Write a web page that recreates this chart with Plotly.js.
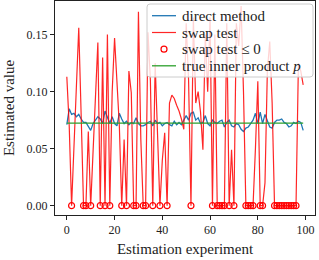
<!DOCTYPE html>
<html>
<head>
<meta charset="utf-8">
<script src="https://cdn.plot.ly/plotly-3.0.1.min.js"></script>
<style>html,body{margin:0;padding:0;background:#fff;}#chart{width:319px;height:260px;}</style>
</head>
<body>
<div id="chart"></div>
<script>
const experiments = Array.from({length: 100}, (_, i) => i);

const directMethod = [
  0.071, 0.085, 0.080, 0.081, 0.078, 0.080, 0.076, 0.073, 0.073, 0.069,
  0.066, 0.072, 0.075, 0.078, 0.076, 0.072, 0.083, 0.078, 0.072, 0.078,
  0.072, 0.070, 0.081, 0.076, 0.072, 0.074, 0.071, 0.073, 0.072, 0.077,
  0.072, 0.070, 0.070, 0.071, 0.073, 0.074, 0.070, 0.075, 0.072, 0.073,
  0.070, 0.072, 0.073, 0.071, 0.070, 0.074, 0.071, 0.073, 0.071, 0.075,
  0.079, 0.075, 0.081, 0.082, 0.075, 0.077, 0.072, 0.073, 0.079, 0.072,
  0.070, 0.075, 0.073, 0.072, 0.074, 0.075, 0.069, 0.073, 0.075, 0.070,
  0.069, 0.072, 0.071, 0.067, 0.065, 0.068, 0.069, 0.072, 0.075, 0.081,
  0.072, 0.082, 0.072, 0.080, 0.075, 0.069, 0.068, 0.073, 0.075, 0.075,
  0.076, 0.073, 0.072, 0.069, 0.070, 0.073, 0.072, 0.074, 0.073, 0.066
];

const swapTest = [
  0.113, 0.070, 0.000, 0.050, 0.100, 0.156, 0.080, 0.000, 0.000, 0.065,
  0.000, 0.050, 0.100, 0.143, 0.000, 0.130, 0.000, 0.150, 0.000, 0.100,
  0.147, 0.110, 0.070, 0.000, 0.058, 0.000, 0.118, 0.099, 0.000, 0.000,
  0.170, 0.058, 0.000, 0.000, 0.152, 0.110, 0.000, 0.125, 0.065, 0.000,
  0.040, 0.064, 0.000, 0.090, 0.097, 0.094, 0.088, 0.083, 0.076, 0.067,
  0.160, 0.110, 0.000, 0.165, 0.090, 0.100, 0.082, 0.049, 0.150, 0.100,
  0.165, 0.000, 0.150, 0.000, 0.000, 0.000, 0.000, 0.160, 0.000, 0.049,
  0.000, 0.160, 0.140, 0.175, 0.100, 0.000, 0.000, 0.000, 0.000, 0.050,
  0.109, 0.000, 0.000, 0.020, 0.119, 0.144, 0.090, 0.000, 0.000, 0.000,
  0.000, 0.000, 0.000, 0.000, 0.000, 0.000, 0.000, 0.125, 0.118, 0.106
];

const trueInnerProduct = 0.0724;

const seriesNames = ['direct method', 'swap test', 'swap test ≤ 0', 'true inner product <i>p</i>'];

const zeroX = experiments.filter(i => swapTest[i] <= 0);
const zeroY = zeroX.map(i => swapTest[i]);
const trueY = experiments.map(() => trueInnerProduct);

const FONT = "Liberation Serif, Times New Roman, serif";
const BLUE = '#1f77b4', RED = 'rgba(255,0,0,0.85)', GREEN = '#2ca02c';

const traces = [
  {x: experiments, y: directMethod, type: 'scatter', mode: 'lines', name: seriesNames[0],
   line: {color: BLUE, width: 1.3}},
  {x: experiments, y: swapTest, type: 'scatter', mode: 'lines', name: seriesNames[1],
   line: {color: RED, width: 1.2}},
  {x: zeroX, y: zeroY, type: 'scatter', mode: 'markers', name: seriesNames[2],
   marker: {symbol: 'circle-open', size: 6, color: 'red', line: {width: 1.2, color: 'red'}}},
  {x: experiments, y: trueY, type: 'scatter', mode: 'lines', name: seriesNames[3],
   line: {color: GREEN, width: 1.3}}
];

// plot-area geometry (pixels) for a matplotlib-style legend box
const M = {l: 55, r: 4, t: 1, b: 45};
const PW = 319 - M.l - M.r, PH = 260 - M.t - M.b;
const px = x => (x - M.l) / PW;
const py = y => (M.t + PH - y) / PH;

const box = {x0: 147, x1: 313, y0: 4, y1: 77, r: 3};
const rowY = [15.7, 32.5, 49.2, 65.8];
const handle = {x0: 152, x1: 176, text: 180};

function roundedRectPath(b) {
  const rx = b.r / PW, ry = b.r / PH;
  const L = px(b.x0), R = px(b.x1), T = py(b.y0), B = py(b.y1);
  return `M ${L + rx},${T} L ${R - rx},${T} Q ${R},${T} ${R},${T - ry} L ${R},${B + ry} Q ${R},${B} ${R - rx},${B} ` +
         `L ${L + rx},${B} Q ${L},${B} ${L},${B + ry} L ${L},${T - ry} Q ${L},${T} ${L + rx},${T} Z`;
}

const shapes = [
  {type: 'path', xref: 'paper', yref: 'paper', path: roundedRectPath(box), layer: 'above',
   fillcolor: 'rgba(255,255,255,0.8)', line: {color: '#cccccc', width: 1}},
  {type: 'line', xref: 'paper', yref: 'paper', layer: 'above', x0: px(handle.x0), x1: px(handle.x1),
   y0: py(rowY[0]), y1: py(rowY[0]), line: {color: BLUE, width: 1.3}},
  {type: 'line', xref: 'paper', yref: 'paper', layer: 'above', x0: px(handle.x0), x1: px(handle.x1),
   y0: py(rowY[1]), y1: py(rowY[1]), line: {color: RED, width: 1.2}},
  {type: 'circle', xref: 'paper', yref: 'paper', layer: 'above',
   x0: px((handle.x0 + handle.x1) / 2 - 3), x1: px((handle.x0 + handle.x1) / 2 + 3),
   y0: py(rowY[2] + 3), y1: py(rowY[2] - 3), line: {color: 'red', width: 1.2}},
  {type: 'line', xref: 'paper', yref: 'paper', layer: 'above', x0: px(handle.x0), x1: px(handle.x1),
   y0: py(rowY[3]), y1: py(rowY[3]), line: {color: GREEN, width: 1.3}}
];

const annotations = seriesNames.map((name, k) => ({
  xref: 'paper', yref: 'paper', x: px(handle.text), y: py(rowY[k]), xanchor: 'left', yanchor: 'middle',
  text: name, showarrow: false, font: {family: FONT, size: 15, color: '#222'}
}));

const layout = {
  width: 319, height: 260,
  margin: M,
  paper_bgcolor: '#fff', plot_bgcolor: '#fff',
  font: {family: FONT, size: 12, color: '#222'},
  showlegend: false,
  shapes: shapes,
  annotations: annotations,
  xaxis: {range: [-4.95, 103.95], tickvals: [0, 20, 40, 60, 80, 100], ticks: 'outside', ticklen: 4,
          tickcolor: '#222', showline: true, mirror: true, linecolor: '#222', linewidth: 1,
          showgrid: false, zeroline: false, tickfont: {family: FONT, size: 12},
          title: {text: 'Estimation experiment', font: {family: FONT, size: 15}, standoff: 7}},
  yaxis: {range: [-0.0082, 0.1795], tickvals: [0, 0.05, 0.10, 0.15], tickformat: '.2f', ticks: 'outside', ticklen: 4,
          tickcolor: '#222', showline: true, mirror: true, linecolor: '#222', linewidth: 1,
          showgrid: false, zeroline: false, tickfont: {family: FONT, size: 12},
          title: {text: 'Estimated value', font: {family: FONT, size: 15}, standoff: 8}}
};

Plotly.newPlot('chart', traces, layout, {displayModeBar: false, staticPlot: true});
</script>
</body>
</html>
